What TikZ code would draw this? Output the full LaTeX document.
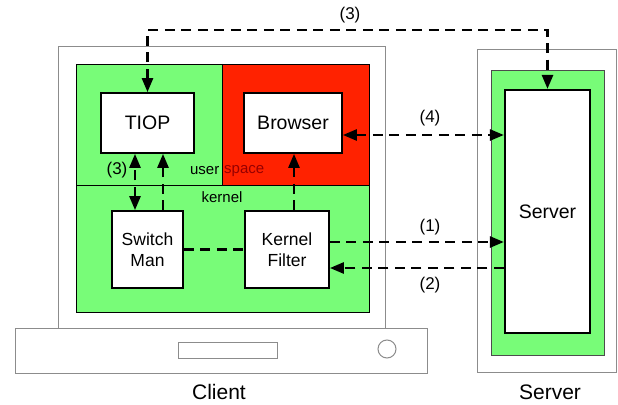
\documentclass[tikz,border=0pt]{standalone}
\usepackage{fontspec}
\setmainfont{Liberation Sans}
\usetikzlibrary{arrows.meta}
\definecolor{scrgreen}{RGB}{120,252,120}
\definecolor{scrred}{RGB}{255,34,0}
\definecolor{darkred}{RGB}{150,0,0}
\definecolor{framegray}{RGB}{140,140,140}
\tikzset{
  tip/.tip={Triangle[length=14pt,width=11pt]},
  box/.style={draw=black, line width=1.8pt, fill=white, align=center, inner sep=0pt,
    font=\fontsize{17.5}{21}\selectfont},
  flow/.style={line width=2.6pt, dash pattern=on 10pt off 6.5pt, arrows={-tip}},
  flowboth/.style={flow, arrows={tip-tip}},
  flowplain/.style={line width=2.6pt, dash pattern=on 10pt off 6.5pt},
  lbl/.style={font=\fontsize{17}{20}\selectfont, inner sep=0pt},
  small/.style={font=\fontsize{15}{18}\selectfont, inner sep=0pt},
  big/.style={font=\fontsize{21}{24}\selectfont, inner sep=0pt},
  frame/.style={draw=framegray, line width=1pt}
}
\begin{document}
\begin{tikzpicture}[x=1pt,y=-1pt]
\useasboundingbox (0,0) rectangle (618,404);
% client monitor
\draw[frame, fill=white] (58,47) rectangle (385,328);
\fill[scrgreen] (76,64) rectangle (369,312);
\fill[scrred] (222,64) rectangle (369,185);
\draw[black, line width=0.8pt] (76,64) rectangle (369,312);
\draw[black, line width=0.8pt] (76,185) -- (369,185);
\draw[black, line width=0.8pt] (222,64) -- (222,185);
% base
\draw[frame, fill=white] (15,328) rectangle (427,373);
\draw[frame] (178,342) rectangle (277,358);
\draw[frame] (387,349) circle (9);
% server
\draw[frame, fill=white] (477,50) rectangle (616,372);
\draw[fill=scrgreen, draw=black!70, line width=0.8pt] (491,70) rectangle (604,355);

% nodes
\node[box, minimum width=93pt, minimum height=60pt, font=\fontsize{19.5}{23}\selectfont] (tiop) at (147.5,123) {TIOP};
\node[box, minimum width=98pt, minimum height=60pt, font=\fontsize{19.5}{23}\selectfont] (browser) at (293,123) {Browser};
\node[box, minimum width=71pt, minimum height=77pt] (sw) at (147.5,249.5) {Switch\\Man};
\node[box, minimum width=84pt, minimum height=77pt] (kf) at (287,249.5) {Kernel\\Filter};
\node[box, line width=2.2pt, minimum width=85pt, minimum height=243pt,
  font=\fontsize{19.5}{23}\selectfont] (srv) at (547.5,211.5) {Server};

% labels
\node[small, anchor=east] (user) at (219.5,171) {user};
\node[small, anchor=west, text=darkred] (space) at (224,171) {space};
\node[small] (kernel) at (222,197) {kernel};
\node[big] (client) at (219,392) {Client};
\node[big] (srvlbl) at (550,392) {Server};
\node[lbl] (l3top) at (350,15) {(3)};
\node[lbl] (l4) at (430,118) {(4)};
\node[lbl] (l1) at (430,227) {(1)};
\node[lbl] (l2) at (430,285) {(2)};
\node[lbl] (l3left) at (117,170) {(3)};

% helper coordinates
\coordinate (topline) at (0,30);
\coordinate (y4) at (0,135);
\coordinate (y1) at (0,242);
\coordinate (y2) at (0,268);
\coordinate (xa) at (135,0);
\coordinate (xb) at (163,0);
\coordinate (xc) at (294,0);

% connectors
\draw[flowboth] (tiop.north) -- (tiop.north |- topline) -- (srv.north |- topline) -- (srv.north);
\draw[flowboth] (browser.east |- y4) -- (srv.west |- y4);
\draw[flow] (kf.east |- y1) -- (srv.west |- y1);
\draw[flow] (srv.west |- y2) -- (kf.east |- y2);
\draw[flowboth] (xa |- sw.north) -- (xa |- tiop.south);
\draw[flow] (xb |- sw.north) -- (xb |- tiop.south);
\draw[flow] (xc |- kf.north) -- (xc |- browser.south);
\draw[flowplain] (sw.east) -- (kf.west);
\end{tikzpicture}
\end{document}
